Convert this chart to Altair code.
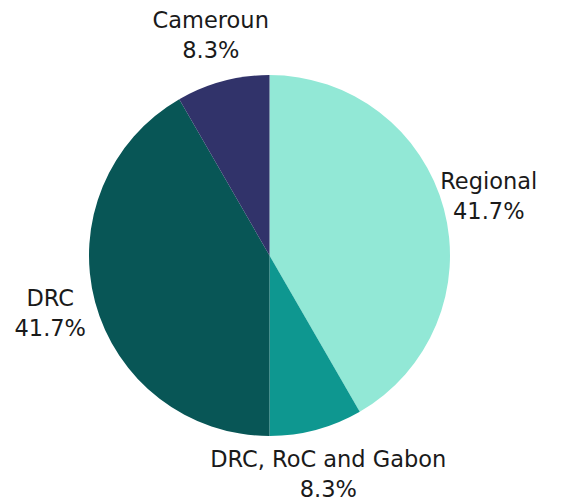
import altair as alt
import pandas as pd

categories = ["Regional", "DRC, RoC and Gabon", "DRC", "Cameroun"]
values = [5, 1, 5, 1]
percent_labels = ["41.7%", "8.3%", "41.7%", "8.3%"]
colors = ["#92E8D6", "#0E9790", "#085656", "#31336A"]

df = pd.DataFrame({
    "category": categories,
    "value": values,
    "order": list(range(len(categories))),
    "label": [[c, p] for c, p in zip(categories, percent_labels)],
})

cx, cy = 261.5, 247.5

base = alt.Chart(df).encode(
    theta=alt.Theta("value:Q", stack=True),
    order=alt.Order("order:Q"),
    x=alt.value(cx),
    y=alt.value(cy),
)

pie = base.mark_arc(outerRadius=180.5).encode(
    color=alt.Color("category:N", scale=alt.Scale(domain=categories, range=colors), legend=None)
)

text = base.mark_text(radius=227, dy=-15, font="DejaVu Sans", fontSize=22.5, color="#1a1a1a",
                      align="center", baseline="middle", lineHeight=30).encode(
    text="label"
)

chart = (pie + text).properties(width=565, height=494, padding=0,
                                autosize=alt.AutoSizeParams(type="none")).configure_view(stroke=None)

chart.save("out.html", embed_options={"renderer": "svg", "actions": False})
